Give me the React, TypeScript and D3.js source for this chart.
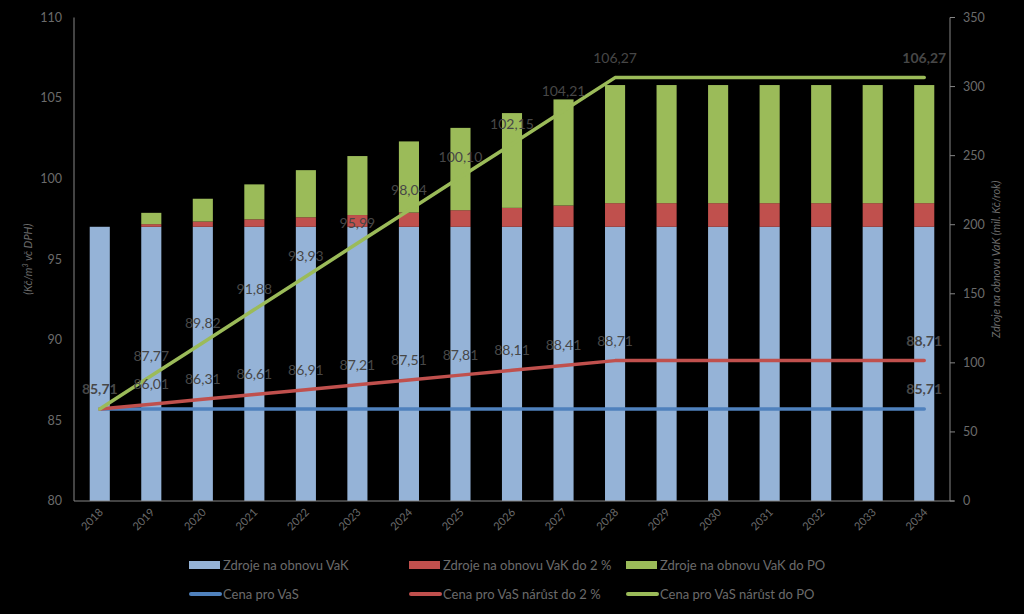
import React from "react";
import * as d3 from "d3";

const years = ["2018","2019","2020","2021","2022","2023","2024","2025","2026","2027","2028","2029","2030","2031","2032","2033","2034"];
const zdrojeVaK = [198.5,198.5,198.5,198.5,198.5,198.5,198.5,198.5,198.5,198.5,198.5,198.5,198.5,198.5,198.5,198.5,198.5];
const zdrojeDo2 = [0,1.9,3.8,5.4,6.9,8.5,10.3,12.0,13.7,15.4,17.1,17.1,17.1,17.1,17.1,17.1,17.1];
const zdrojeDoPO = [0,8.2,16.5,25.3,34.1,42.7,51.5,59.6,68.6,76.8,85.5,85.5,85.5,85.5,85.5,85.5,85.5];
const cenaVaS = [85.71,85.71,85.71,85.71,85.71,85.71,85.71,85.71,85.71,85.71,85.71,85.71,85.71,85.71,85.71,85.71,85.71];
const cenaDo2 = [85.71,86.01,86.31,86.61,86.91,87.21,87.51,87.81,88.11,88.41,88.71,88.71,88.71,88.71,88.71,88.71,88.71];
const cenaDoPO = [85.71,87.77,89.82,91.88,93.93,95.99,98.04,100.10,102.15,104.21,106.27,106.27,106.27,106.27,106.27,106.27,106.27];
const leftTicks = [80,85,90,95,100,105,110];
const rightTicks = [0,50,100,150,200,250,300,350];

const C = {
  barBlue: "#95b3d7",
  red: "#c0504d",
  green: "#9bbb59",
  lineBlue: "#4f81bd",
  axis: "#868686",
  tick: "#6b6b6b",
  label: "#474747",
};
const FONT = "Lato, 'Open Sans', sans-serif";

const fmt = (v: number) => v.toFixed(2).replace(".", ",");

export default function App() {
  const W = 1024, H = 614;
  const x0 = 74, x1 = 950, yTop = 17.5, yBot = 501;
  const x = d3.scaleBand<string>().domain(years).range([x0, x1]).padding(0);
  const bw = x.bandwidth() * 0.39;
  const cx = (y: string) => (x(y) as number) + x.bandwidth() / 2;
  const yL = d3.scaleLinear().domain([80, 110]).range([yBot, yTop]);
  const yR = d3.scaleLinear().domain([0, 350]).range([yBot, yTop]);

  const line = d3.line<number>().x((_, i) => cx(years[i])).y((d) => yL(d));

  const stacks = years.map((yr, i) => {
    const a = zdrojeVaK[i], b = a + zdrojeDo2[i], c = b + zdrojeDoPO[i];
    return { yr, segs: [[0, a, C.barBlue], [a, b, C.red], [b, c, C.green]] as [number, number, string][] };
  });

  const off = 20;
  const labels: { x: number; y: number; t: string; bold: boolean }[] = [];
  years.forEach((yr, i) => {
    if (i >= 1 && i <= 10) {
      labels.push({ x: cx(yr), y: yL(cenaDoPO[i]) - off, t: fmt(cenaDoPO[i]), bold: false });
      labels.push({ x: cx(yr), y: yL(cenaDo2[i]) - off, t: fmt(cenaDo2[i]), bold: false });
    }
  });
  labels.push({ x: cx(years[0]), y: yL(cenaVaS[0]) - off, t: fmt(cenaVaS[0]), bold: true });
  const last = years.length - 1;
  labels.push({ x: cx(years[last]), y: yL(cenaDoPO[last]) - off, t: fmt(cenaDoPO[last]), bold: true });
  labels.push({ x: cx(years[last]), y: yL(cenaDo2[last]) - off, t: fmt(cenaDo2[last]), bold: true });
  labels.push({ x: cx(years[last]), y: yL(cenaVaS[last]) - off, t: fmt(cenaVaS[last]), bold: true });

  const legend = [
    { kind: "rect", color: C.barBlue, text: "Zdroje na obnovu VaK", x: 189, y: 565 },
    { kind: "rect", color: C.red, text: "Zdroje na obnovu VaK do 2 %", x: 409, y: 565 },
    { kind: "rect", color: C.green, text: "Zdroje na obnovu VaK do PO", x: 626, y: 565 },
    { kind: "line", color: C.lineBlue, text: "Cena pro VaS", x: 189, y: 594 },
    { kind: "line", color: C.red, text: "Cena pro VaS nárůst do 2 %", x: 409, y: 594 },
    { kind: "line", color: C.green, text: "Cena pro VaS nárůst do PO", x: 626, y: 594 },
  ];

  return (
    <svg width={W} height={H} style={{ position: "absolute", left: 0, top: 0, background: "#000" }} fontFamily={FONT}>
      <rect x={0} y={0} width={W} height={H} fill="#000" />
      {stacks.map((s) =>
        s.segs.map(([a, b, col], j) =>
          b > a ? (
            <rect key={s.yr + j} x={cx(s.yr) - bw / 2} width={bw} y={yR(b)} height={yR(a) - yR(b)} fill={col} />
          ) : null
        )
      )}
      <line x1={x0} x2={x0} y1={yTop} y2={yBot} stroke={C.axis} strokeWidth={1} />
      <line x1={x1} x2={x1} y1={yTop} y2={yBot} stroke={C.axis} strokeWidth={1} />
      <line x1={x0} x2={x1 + 4} y1={yBot} y2={yBot} stroke={C.axis} strokeWidth={1} />
      {leftTicks.map((t) => (
        <text key={"l" + t} x={62} y={yL(t)} dy="0.35em" textAnchor="end" fontSize={12.5} fill={C.tick}>{t}</text>
      ))}
      {rightTicks.map((t) => (
        <g key={"r" + t}>
          <line x1={x1} x2={x1 + 5} y1={yR(t)} y2={yR(t)} stroke={C.axis} />
          <text x={963} y={yR(t)} dy="0.35em" textAnchor="start" fontSize={12.5} fill={C.tick}>{t}</text>
        </g>
      ))}
      {years.map((yr) => (
        <text key={"x" + yr} transform={`translate(${cx(yr) + 4},${yBot + 12}) rotate(-45)`} textAnchor="end" fontSize={11} fill={C.tick}>{yr}</text>
      ))}
      <text transform={`translate(32,${(yTop + yBot) / 2}) rotate(-90)`} textAnchor="middle" fontSize={11} fontStyle="italic" fill={C.tick}>
        (Kč/m<tspan dy={-4} fontSize={7}>3</tspan><tspan dy={4}> vč DPH)</tspan>
      </text>
      <text transform={`translate(1000,${(yTop + yBot) / 2}) rotate(-90)`} textAnchor="middle" fontSize={11} fontStyle="italic" fill={C.tick}>
        Zdroje na obnovu VaK (mil. Kč/rok)
      </text>
      <path d={line(cenaVaS) || ""} fill="none" stroke={C.lineBlue} strokeWidth={3.5} strokeLinecap="round" strokeLinejoin="round" />
      <path d={line(cenaDo2) || ""} fill="none" stroke={C.red} strokeWidth={3.5} strokeLinecap="round" strokeLinejoin="round" />
      <path d={line(cenaDoPO) || ""} fill="none" stroke={C.green} strokeWidth={3.5} strokeLinecap="round" strokeLinejoin="round" />
      {labels.map((l, i) => (
        <text key={"lab" + i} x={l.x} y={l.y} dy="0.35em" textAnchor="middle" fontSize={14} fontWeight={l.bold ? 700 : 400} fill={C.label}>{l.t}</text>
      ))}
      {legend.map((g, i) => (
        <g key={"lg" + i}>
          {g.kind === "rect" ? (
            <rect x={g.x} y={g.y - 4} width={31} height={8} fill={g.color} />
          ) : (
            <line x1={g.x + 2} x2={g.x + 31} y1={g.y} y2={g.y} stroke={g.color} strokeWidth={4} strokeLinecap="round" />
          )}
          <text x={g.x + 34} y={g.y} dy="0.35em" fontSize={13} fill={C.tick}>{g.text}</text>
        </g>
      ))}
    </svg>
  );
}
